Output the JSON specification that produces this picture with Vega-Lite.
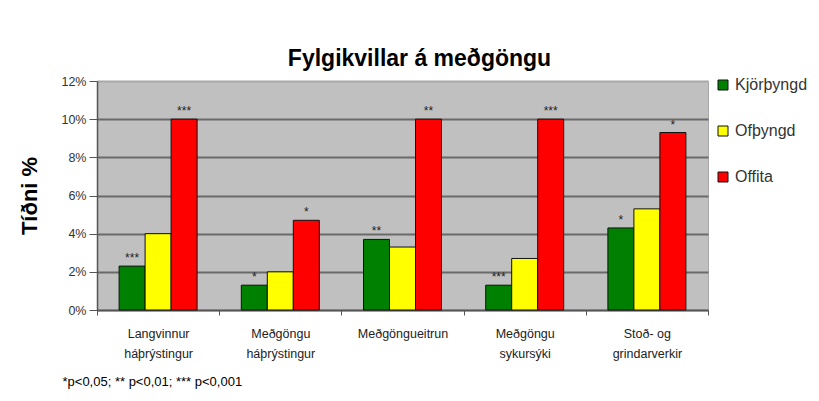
{
  "$schema": "https://vega.github.io/schema/vega-lite/v6.json",
  "width": 611,
  "height": 229,
  "autosize": {"type": "none"},
  "padding": {"left": 97, "top": 81, "right": 111, "bottom": 91},
  "background": "white",
  "title": {
    "text": "Fylgikvillar á meðgöngu",
    "font": "Liberation Sans",
    "fontSize": 23,
    "fontWeight": "bold",
    "color": "black",
    "anchor": "middle",
    "dx": 17,
    "offset": 4
  },
  "data": {
    "values": [
      {"hopur": "Langvinnur|háþrýstingur", "flokkur": "Kjörþyngd", "gildi": 0.023, "mark": "***"},
      {"hopur": "Langvinnur|háþrýstingur", "flokkur": "Ofþyngd", "gildi": 0.04, "mark": ""},
      {"hopur": "Langvinnur|háþrýstingur", "flokkur": "Offita", "gildi": 0.1, "mark": "***"},
      {"hopur": "Meðgöngu|háþrýstingur", "flokkur": "Kjörþyngd", "gildi": 0.013, "mark": "*"},
      {"hopur": "Meðgöngu|háþrýstingur", "flokkur": "Ofþyngd", "gildi": 0.02, "mark": ""},
      {"hopur": "Meðgöngu|háþrýstingur", "flokkur": "Offita", "gildi": 0.047, "mark": "*"},
      {"hopur": "Meðgöngueitrun", "flokkur": "Kjörþyngd", "gildi": 0.037, "mark": "**"},
      {"hopur": "Meðgöngueitrun", "flokkur": "Ofþyngd", "gildi": 0.033, "mark": ""},
      {"hopur": "Meðgöngueitrun", "flokkur": "Offita", "gildi": 0.1, "mark": "**"},
      {"hopur": "Meðgöngu|sykursýki", "flokkur": "Kjörþyngd", "gildi": 0.013, "mark": "***"},
      {"hopur": "Meðgöngu|sykursýki", "flokkur": "Ofþyngd", "gildi": 0.027, "mark": ""},
      {"hopur": "Meðgöngu|sykursýki", "flokkur": "Offita", "gildi": 0.1, "mark": "***"},
      {"hopur": "Stoð- og|grindarverkir", "flokkur": "Kjörþyngd", "gildi": 0.043, "mark": "*"},
      {"hopur": "Stoð- og|grindarverkir", "flokkur": "Ofþyngd", "gildi": 0.053, "mark": ""},
      {"hopur": "Stoð- og|grindarverkir", "flokkur": "Offita", "gildi": 0.093, "mark": "*"}
    ]
  },
  "encoding": {
    "x": {
      "field": "hopur",
      "type": "nominal",
      "sort": null,
      "scale": {"paddingInner": 0, "paddingOuter": 0},
      "axis": {
        "labelExpr": "split(datum.label, '|')",
        "labelAngle": 0,
        "labelFont": "Liberation Sans",
        "labelFontSize": 12.5,
        "labelColor": "#222222",
        "labelLineHeight": 20,
        "labelPadding": 12,
        "labelBaseline": "top",
        "tickBand": "extent",
        "tickSize": 5,
        "tickColor": "#555555",
        "domainColor": "#555555",
        "domainWidth": 1.5,
        "title": "*p<0,05; ** p<0,01; *** p<0,001",
        "titleFont": "Liberation Sans",
        "titleFontSize": 13,
        "titleFontWeight": "normal",
        "titleColor": "black",
        "titleAnchor": "start",
        "titleAlign": "left",
        "titleBaseline": "middle",
        "titleX": -35,
        "titleY": 71
      }
    },
    "xOffset": {
      "field": "flokkur",
      "sort": ["Kjörþyngd", "Ofþyngd", "Offita"],
      "scale": {"paddingInner": 0, "paddingOuter": 0.85}
    },
    "y": {
      "field": "gildi",
      "type": "quantitative",
      "scale": {"domain": [0, 0.12]},
      "axis": {
        "values": [0, 0.02, 0.04, 0.06, 0.08, 0.1, 0.12],
        "format": ".0%",
        "labelFont": "Liberation Sans",
        "labelFontSize": 12.5,
        "labelColor": "#333333",
        "labelPadding": 3,
        "tickSize": 8,
        "tickColor": "#555555",
        "domainColor": "#555555",
        "domainWidth": 1.5,
        "grid": true,
        "gridColor": {"condition": {"test": "datum.value >= 0.12", "value": "#a8a8a8"}, "value": "#6a6a6a"},
        "gridWidth": 2,
        "title": "Tíðni %",
        "titleFont": "Liberation Sans",
        "titleFontSize": 22,
        "titleFontWeight": "bold",
        "titleColor": "black",
        "titlePadding": 19
      }
    }
  },
  "layer": [
    {
      "mark": {"type": "bar", "stroke": "#111111", "strokeWidth": 1},
      "encoding": {
        "color": {
          "field": "flokkur",
          "type": "nominal",
          "sort": ["Kjörþyngd", "Ofþyngd", "Offita"],
          "scale": {"domain": ["Kjörþyngd", "Ofþyngd", "Offita"], "range": ["#008000", "#FFFF00", "#FF0000"]},
          "legend": {
            "title": null,
            "orient": "none",
            "legendX": 618,
            "legendY": -4,
            "symbolType": "square",
            "symbolSize": 100,
            "symbolStrokeColor": "#111111",
            "symbolStrokeWidth": 1,
            "symbolOpacity": 1,
            "labelFont": "Liberation Sans",
            "labelFontSize": 16,
            "labelColor": "#333333",
            "labelOffset": 4,
            "rowPadding": 30
          }
        }
      }
    },
    {
      "mark": {"type": "text", "baseline": "bottom", "dy": -1, "font": "Liberation Sans", "fontSize": 12, "color": "#222222"},
      "encoding": {"text": {"field": "mark"}}
    }
  ],
  "config": {
    "view": {"fill": "#C0C0C0", "stroke": "#a8a8a8", "strokeWidth": 1}
  }
}
